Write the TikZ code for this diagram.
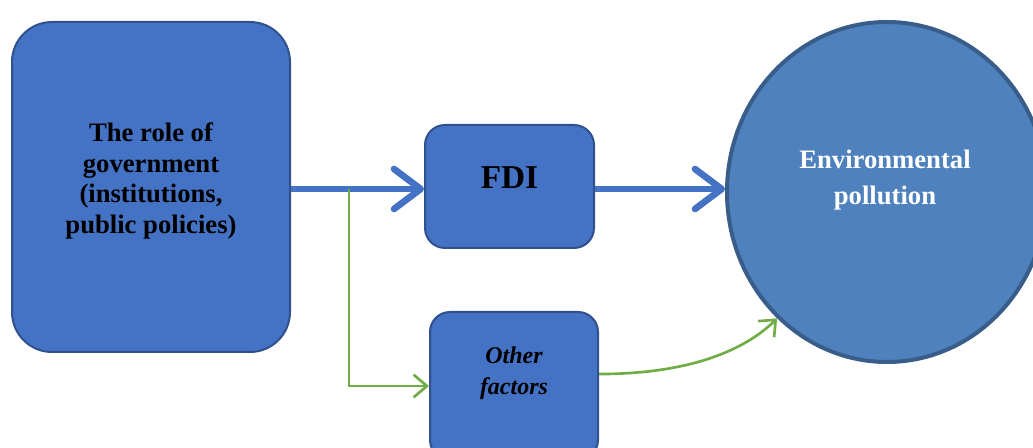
\documentclass[tikz,border=0pt]{standalone}
\usepackage{fontspec}
\setmainfont{Liberation Serif}
\usepackage{tikz}
\usetikzlibrary{shapes.geometric, arrows.meta, positioning}
\definecolor{boxcolor}{HTML}{4472C4}
\definecolor{boxborder}{HTML}{2F528F}
\definecolor{ellcolor}{HTML}{4F81BD}
\definecolor{ellborder}{HTML}{385D8A}
\definecolor{linkgreen}{HTML}{70AD47}

\begin{document}
\begin{tikzpicture}[
    x=0.75pt, y=-0.75pt,
    block/.style={draw=boxborder, line width=1.5pt, fill=boxcolor, rounded corners=#1, inner sep=0pt},
    label/.style={align=center, font=\fontsize{20}{23}\selectfont\bfseries},
    mainlink/.style={line width=5pt, draw=boxcolor, -{Straight Barb[length=20pt, width=30pt, round]}},
    sidelink/.style={line width=2pt, draw=linkgreen, -{Straight Barb[length=10pt, width=17pt]}}
]
    \useasboundingbox (0,0) rectangle (1033,448);

    % Government box
    \node[block=30pt, minimum width=208.5pt, minimum height=247.5pt] (gov) at (151,187) {};
    \node[label] at (151,181) {The role of\\government\\(institutions,\\public policies)};

    % FDI box
    \node[block=15pt, minimum width=126.75pt, minimum height=92.25pt] (fdi) at (509.5,186.5) {};
    \node[font=\fontsize{25}{28}\selectfont\bfseries] at (509.5,178) {FDI};

    % Other factors box
    \node[block=15pt, minimum width=126pt, minimum height=111pt] (other) at (514,386) {};
    \node[align=center, font=\fontsize{18}{23}\selectfont\bfseries\itshape] at (514,373) {Other\\factors};

    % Environmental pollution
    \node[draw=ellborder, line width=3pt, fill=ellcolor, ellipse, inner sep=0pt,
          minimum width=240pt, minimum height=255pt] (env) at (887,192) {};
    \node[label, font=\fontsize{20}{27}\selectfont\bfseries, text=white] at (885,180) {Environmental\\pollution};

    % Connections
    \coordinate (split) at (349,189);
    \draw[mainlink] (gov.east |- split) -- (fdi.west |- split);
    \draw[mainlink] (fdi.east |- split) -- (env.west |- split);
    \draw[sidelink] (split) |- (other.west);
    \draw[sidelink] (other.8) .. controls (690,374) and (745,350) .. (env.229);

\end{tikzpicture}
\end{document}
